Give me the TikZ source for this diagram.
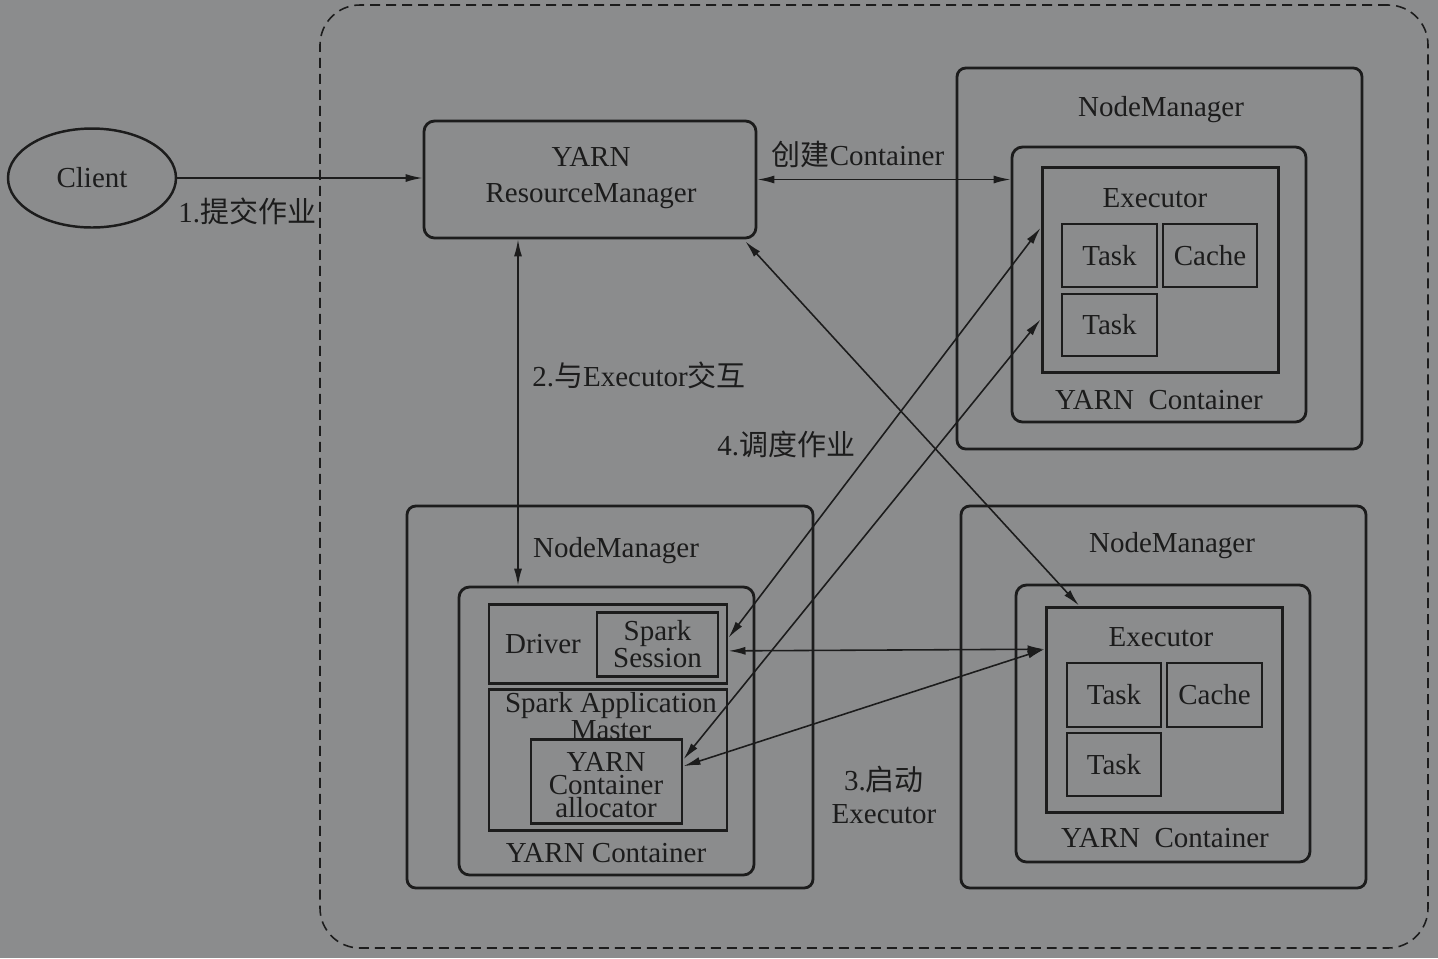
\documentclass[tikz,border=0pt]{standalone}
\usepackage{fontspec}
\setmainfont{Liberation Serif}
\newfontfamily\cjk{Noto Sans CJK SC}
\usepackage{tikz}
\usetikzlibrary{positioning, arrows.meta, calc, fit, shapes.geometric}
\definecolor{paper}{HTML}{8B8C8D}
\definecolor{ink}{HTML}{1C1C1C}

\begin{document}
\begin{tikzpicture}[x=0.02cm, y=-0.02cm,
    every node/.style={text=ink, font=\fontsize{16.5}{20}\selectfont},
    box/.style={draw=ink, line width=1.6pt, inner sep=0pt},
    nmbox/.style={box, rounded corners=5pt},
    ctbox/.style={box, rounded corners=6pt},
    exbox/.style={box, line width=1.7pt},
    dashbox/.style={draw=ink, line width=0.9pt, dash pattern=on 0.2cm off 0.12cm,
      rounded corners=0.8cm, inner sep=0pt},
    tight/.style={align=center, font=\fontsize{16.5}{13}\selectfont},
    lbl/.style={inner sep=0pt, anchor=west},
    tip/.tip={Latex[length=3.4mm,width=1.6mm]},
    tolink/.style={draw=ink, line width=0.9pt, -tip},
    link/.style={draw=ink, line width=0.9pt, tip-tip}]
  \fill[paper] (0,0) rectangle (1438,958);
  \useasboundingbox (0,0) rectangle (1438,958);

  % cluster and client
  \node[dashbox, fit={(320,5) (1428,948)}] (cluster) {};
  \node[draw=ink, line width=1.4pt, ellipse, minimum width=3.36cm, minimum height=1.98cm,
        inner sep=0pt] (client) at (92,178) {Client};
  \node[ctbox, fit={(424,121) (756,238)}] (rm) {};
  \node[align=center] at (591,178) {YARN\\ResourceManager};

  % upper executor node
  \node[nmbox, fit={(957,68) (1362,449)}] (nmA) {};
  \node at (1161,110) {NodeManager};
  \node[ctbox, fit={(1012,147) (1306,422)}] (ctA) {};
  \node at (1159,400) {YARN~~Container};
  \node[exbox, fit={(1042,167) (1278,372)}] (exA) {};
  \node at (1155,198) {Executor};
  \node[box, fit={(1062,224) (1157,287)}] (taskA1) {};
  \node[box, fit={(1163,224) (1257,287)}] (cacheA) {};
  \node[box, fit={(1062,294) (1157,356)}] (taskA2) {};
  \node at (taskA1) {Task};
  \node at (cacheA) {Cache};
  \node at (taskA2) {Task};

  % lower executor node
  \node[nmbox, fit={(961,506) (1366,888)}] (nmB) {};
  \node at (1172,546) {NodeManager};
  \node[ctbox, fit={(1016,585) (1310,862)}] (ctB) {};
  \node at (1165,838) {YARN~~Container};
  \node[exbox, fit={(1046,607) (1282,812)}] (exB) {};
  \node at (1161,637) {Executor};
  \node[box, fit={(1067,663) (1161,727)}] (taskB1) {};
  \node[box, fit={(1167,663) (1262,727)}] (cacheB) {};
  \node[box, fit={(1067,733) (1161,796)}] (taskB2) {};
  \node at (taskB1) {Task};
  \node at (cacheB) {Cache};
  \node at (taskB2) {Task};

  % driver node
  \node[nmbox, fit={(407,506) (813,888)}] (nmL) {};
  \node at (616,551) {NodeManager};
  \node[ctbox, fit={(459,587) (754,875)}] (ctL) {};
  \node at (606,853) {YARN Container};
  \node[exbox, fit={(489,604) (727,683)}] (drv) {};
  \node at (543,644) {Driver};
  \node[exbox, fit={(597,612) (718,676)}] (sess) {};
  \node[tight] at (sess) {Spark\\Session};
  \node[exbox, fit={(489,689) (727,830)}] (sam) {};
  \node[tight] at (611,716) {Spark Application\\Master};
  \node[exbox, fit={(531,739) (682,823)}] (alloc) {};
  \node[tight] at (606,785) {YARN\\Container\\allocator};

  % connectors
  \coordinate (c2) at (518,0);
  \draw[tolink] (client.east) -- (client.east -| rm.west);
  \draw[link] (rm.east) -- (rm.east -| ctA.west);
  \draw[link] (rm.south -| c2) -- (ctL.north -| c2);
  \draw[link] ($(rm.south east)+(-12,2)$) -- ($(exB.north west)!0.144!(exB.north east)$);
  \draw[link] ($(drv.north east)!0.43!(drv.south east)$) -- ($(exA.north west)!0.30!(exA.south west)$);
  \draw[link] ($(alloc.north east)!0.25!(alloc.south east)$) -- ($(exA.north west)!0.74!(exA.south west)$);
  \draw[link] ($(drv.north east)!0.59!(drv.south east)$) -- ($(exB.north west)!0.21!(exB.south west)$);
  \draw[link] ($(alloc.north east)!0.33!(alloc.south east)$) -- ($(exB.north west)!0.21!(exB.south west)$);

  % labels
  \node[lbl] at (178,211) {1.{\cjk 提交作业}};
  \node at (858,154) {{\cjk 创建}Container};
  \node[lbl] at (532,375) {2.{\cjk 与}Executor{\cjk 交互}};
  \node[lbl] at (717,444) {4.{\cjk 调度作业}};
  \node[align=center, font=\fontsize{16.5}{19}\selectfont] at (884,795) {3.{\cjk 启动}\\Executor};
\end{tikzpicture}
\end{document}
